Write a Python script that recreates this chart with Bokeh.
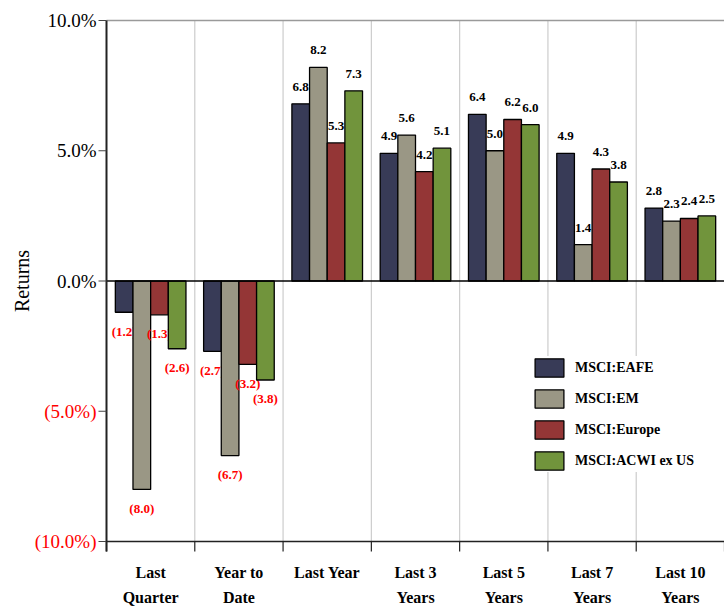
import math
from bokeh.plotting import figure
from bokeh.models import ColumnDataSource, Legend, LegendItem
from bokeh.core.properties import value
from bokeh.embed import file_html
from bokeh.resources import INLINE

categories = ["Last\nQuarter", "Year to\nDate", "Last Year", "Last 3\nYears",
              "Last 5\nYears", "Last 7\nYears", "Last 10\nYears"]
series = ["MSCI:EAFE", "MSCI:EM", "MSCI:Europe", "MSCI:ACWI ex US"]
eafe = [-1.2, -2.7, 6.8, 4.9, 6.4, 4.9, 2.8]
em = [-8.0, -6.7, 8.2, 5.6, 5.0, 1.4, 2.3]
europe = [-1.3, -3.2, 5.3, 4.2, 6.2, 4.3, 2.4]
acwi = [-2.6, -3.8, 7.3, 5.1, 6.0, 3.8, 2.5]
colors = ["#383B57", "#9A9785", "#943636", "#71943C"]
y_ticks = [-10, -5, 0, 5, 10]
y_tick_labels = ["(10.0%)", "(5.0%)", "0.0%", "5.0%", "10.0%"]
y_title = "Returns"

SERIF = "Liberation Serif"
all_vals = [eafe, em, europe, acwi]
n = len(categories)
bw = 0.2
ymin, ymax = y_ticks[0], y_ticks[-1]

# layout in pixels (figure-relative)
W, H = 724, 607
left_px, top_px, bottom_px = 106, 20, 541    # plot area edges inside the figure
sx = (W - left_px) / n                       # px per category
sy = (bottom_px - top_px) / (ymax - ymin)    # px per percent
x_start = -left_px / sx
y_end = ymax + top_px / sy
y_start = ymin - (H - bottom_px) / sy

p = figure(width=W, height=H, x_range=(x_start, n), y_range=(y_start, y_end),
           output_backend="svg", toolbar_location=None,
           x_axis_location=None, y_axis_location=None, min_border=0)
p.background_fill_color = "white"
p.outline_line_color = None
p.grid.visible = False

# vertical grid lines at category boundaries
p.segment(x0=list(range(1, n)), x1=list(range(1, n)), y0=ymin, y1=ymax,
          line_color="#cccccc", line_width=1.2)
# top border
p.segment(x0=[0], x1=[n], y0=ymax, y1=ymax, line_color="#9a9a9a", line_width=1.5)

# bars, each series followed by its value labels (later bars overlap earlier labels)
items = []
for j, vals in enumerate(all_vals):
    xs = [i + 0.5 + (j - 1.5) * bw for i in range(n)]
    r = p.vbar(x=xs, top=vals, bottom=0, width=bw, fill_color=colors[j],
               line_color="black", line_width=1.3)
    items.append(LegendItem(label=series[j], renderers=[r]))
    pos = dict(x=[], y=[], t=[])
    neg = dict(x=[], y=[], t=[])
    for xc, v in zip(xs, vals):
        if v >= 0:
            pos["x"].append(xc); pos["y"].append(v); pos["t"].append(f"{v:.1f}")
        else:
            neg["x"].append(xc); neg["y"].append(v); neg["t"].append(f"({abs(v):.1f})")
    p.text(x="x", y="y", text="t", source=ColumnDataSource(pos), text_align="center",
           text_baseline="middle", y_offset=-17, text_font=value(SERIF),
           text_font_style="bold", text_font_size="13px", text_color="black")
    p.text(x="x", y="y", text="t", source=ColumnDataSource(neg), text_align="center",
           text_baseline="middle", y_offset=19, text_font=value(SERIF),
           text_font_style="bold", text_font_size="13px", text_color="red")

# zero line
p.segment(x0=[0], x1=[n], y0=0, y1=0, line_color="black", line_width=1.5)

# ---- y axis (drawn with the plot's scales) ----
p.segment(x0=[0], x1=[0], y0=ymin - 10 / sy, y1=ymax, line_color="#222222", line_width=2)
p.segment(x0=[-8 / sx] * len(y_ticks), x1=[0] * len(y_ticks), y0=y_ticks, y1=y_ticks,
          line_color="#444444", line_width=1.2)
ysrc = ColumnDataSource(dict(
    x=[0] * len(y_ticks), y=y_ticks, t=y_tick_labels,
    c=["red" if t < 0 else "black" for t in y_ticks]))
p.text(x="x", y="y", text="t", text_color="c", source=ysrc, x_offset=-10,
       text_align="right", text_baseline="middle", text_font=value(SERIF),
       text_font_size="19px")
p.text(x=[0], y=[(ymin + ymax) / 2], text=[y_title], x_offset=-85, angle=math.pi / 2,
       text_align="center", text_baseline="middle", text_font=value(SERIF),
       text_font_size="20px", text_color="black")

# ---- x axis ----
p.segment(x0=[0], x1=[n], y0=ymin, y1=ymin, line_color="#222222", line_width=1.5)
p.segment(x0=list(range(n + 1)), x1=list(range(n + 1)), y0=ymin, y1=ymin - 10 / sy,
          line_color="#222222", line_width=1.2)
centers = [i + 0.5 for i in range(n)]
line1 = [c.split("\n")[0] for c in categories]
line2 = [c.split("\n")[1] if "\n" in c else "" for c in categories]
for txt, off in ((line1, 31), (line2, 56)):
    p.text(x=centers, y=[ymin] * n, text=txt, y_offset=off, text_align="center",
           text_baseline="middle", text_font=value(SERIF), text_font_style="bold",
           text_font_size="16px", text_color="black")

legend = Legend(items=items, location=(531, 135), background_fill_color="white",
                background_fill_alpha=1.0, border_line_color=None,
                glyph_width=36, glyph_height=23, spacing=8, padding=8,
                label_standoff=8, label_text_font=SERIF, label_text_font_style="bold",
                label_text_font_size="14px", label_text_color="black", margin=0)
p.add_layout(legend)

open("out.html", "w").write(file_html(p, INLINE))
